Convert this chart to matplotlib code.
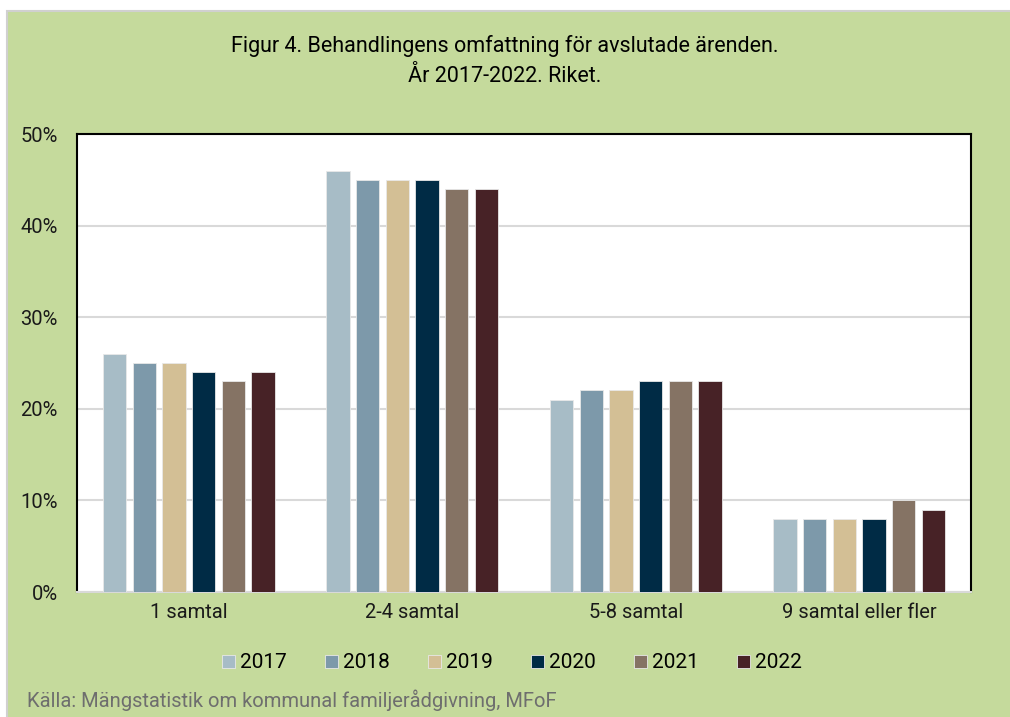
import numpy as np
import matplotlib.pyplot as plt
from matplotlib.patches import Rectangle

plt.rcParams['font.family'] = ['Roboto', 'DejaVu Sans']

categories = ['1 samtal', '2-4 samtal', '5-8 samtal', '9 samtal eller fler']
years = ['2017', '2018', '2019', '2020', '2021', '2022']
values = {
    '2017': [26, 46, 21, 8],
    '2018': [25, 45, 22, 8],
    '2019': [25, 45, 22, 8],
    '2020': [24, 45, 23, 8],
    '2021': [23, 44, 23, 10],
    '2022': [24, 44, 23, 9],
}
colors = ['#A7BCC6', '#7D99AA', '#D3BF95', '#002B45', '#857364', '#472226']

bg = '#C5DA9C'

fig = plt.figure(figsize=(10.1, 7.17), dpi=100, facecolor='white')
fig.patches.append(Rectangle((7 / 1010, -0.01), 1.0, 1 - 11 / 717 + 0.01,
                             transform=fig.transFigure, facecolor=bg,
                             edgecolor='#D0D0D0', linewidth=1.5, zorder=-1))

ax = fig.add_axes([77 / 1010, 1 - 592 / 717, (971 - 77) / 1010, (592 - 134) / 717])
ax.set_facecolor('white')

x = np.arange(len(categories))
slot = 0.133
width = 0.104
for i, (yr, c) in enumerate(zip(years, colors)):
    ax.bar(x + (i - 2.5) * slot, values[yr], width, color=c, label=yr,
           edgecolor='#E8E8E8', linewidth=0.6, zorder=3)

ax.set_xlim(-0.5, len(categories) - 0.5)
ax.set_ylim(0, 50)
ax.set_yticks(np.arange(0, 51, 10))
ax.set_yticklabels(['{}%'.format(v) for v in range(0, 51, 10)], fontsize=14.5)
ax.set_xticks(x)
ax.set_xticklabels(categories, fontsize=14.5)
ax.tick_params(axis='both', length=0, colors='#1a1a1a')
ax.tick_params(axis='y', pad=14)
ax.tick_params(axis='x', pad=8)
ax.grid(axis='y', color='#D9D9D9', linewidth=1.5, zorder=0)

for side in ['left', 'top', 'right']:
    ax.spines[side].set_color('black')
    ax.spines[side].set_linewidth(1.5)
ax.spines['bottom'].set_color('#D9D9D9')
ax.spines['bottom'].set_linewidth(1.5)

fig.text(0.5, 1 - 61 / 717, 'Figur 4. Behandlingens omfattning för avslutade ärenden.\nÅr 2017-2022. Riket.',
         ha='center', va='center', fontsize=15.5, linespacing=1.55, color='black')

fig.legend(loc='center', bbox_to_anchor=(0.507, 1 - 663 / 717), ncol=6, frameon=False,
           fontsize=15, handlelength=0.6, handleheight=0.6, handletextpad=0.25,
           columnspacing=1.85)

fig.text(27 / 1010, 1 - 700 / 717, 'Källa: Mängstatistik om kommunal familjerådgivning, MFoF',
         ha='left', va='center', fontsize=14.5, color='#6E6E6E')

fig.savefig('out.png', dpi=100, facecolor='white')
